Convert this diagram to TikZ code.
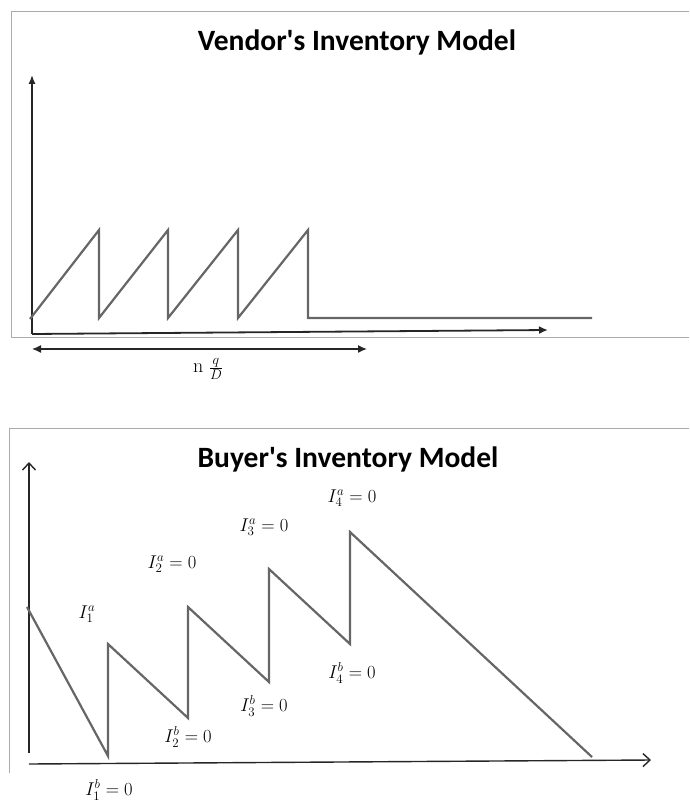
\RequirePackage{fix-cm}
\documentclass[tikz,border=0pt]{standalone}
\usepackage{fontspec}
\newfontfamily\titlefont{Carlito}
\usetikzlibrary{arrows.meta}
\tikzset{
  frame/.style={draw=black!33, line width=1},
  axis/.style={draw=black!85, line width=1.4},
  stock/.style={draw=black!60, line width=2.2, line join=miter},
  title/.style={font=\titlefont\bfseries\fontsize{29.5}{34}\selectfont},
  lab/.style={font=\fontsize{18.5}{22}\selectfont},
}
\begin{document}
\begin{tikzpicture}[x=1pt, y=-1pt, line cap=butt]
  \useasboundingbox (0,0) rectangle (689,802);
  % vendor panel
  \draw[frame] (689,12) -- (11,12) -- (11,337) -- (689,337);
  \node[title] (vtitle) at (357,42) {Vendor's Inventory Model};
  \coordinate (vo) at (32,334);
  \draw[axis,-{Latex[length=9pt,width=7pt]}] (vo) -- (32,75);
  \draw[axis,line width=1.8,-{Latex[length=9pt,width=8pt]}] (vo) -- (548,330);
  \draw[stock] (30,319) -- (99,230) -- (99,318) -- (168,230) -- (168,318)
    -- (238,230) -- (238,318) -- (308,230) -- (308,318) -- (592,318);
  \coordinate (ca) at (32,349);
  \coordinate (cb) at (367,349);
  \draw[axis,{Latex[length=9pt,width=8pt]}-{Latex[length=9pt,width=8pt]}] (ca) -- (cb);
  \node[lab,font=\fontsize{20}{24}\selectfont] (span) at (208,369) {$\mathrm{n}\;\frac{q}{D}$};
  % buyer panel
  \draw[frame] (689,428) -- (9,428) -- (9,773);
  \node[title] (btitle) at (348,459) {Buyer's Inventory Model};
  \draw[axis,-{Straight Barb[length=7pt,width=13pt]}] (29,753) -- (29,462);
  \draw[axis,-{Straight Barb[length=7pt,width=13pt]}] (29,764) -- (651,760);
  \draw[stock] (27,607) -- (108,756) -- (108,644) -- (188,718) -- (188,607)
    -- (269,682) -- (269,569) -- (350,644) -- (350,532) -- (592,757);
  \node[lab] (a1) at (87,614) {$I_1^a$};
  \node[lab] (a2) at (172,564) {$I_2^a=0$};
  \node[lab] (a3) at (264,527) {$I_3^a=0$};
  \node[lab] (a4) at (352,498) {$I_4^a=0$};
  \node[lab] (b1) at (109,790) {$I_1^b=0$};
  \node[lab] (b2) at (188,737) {$I_2^b=0$};
  \node[lab] (b3) at (264,706) {$I_3^b=0$};
  \node[lab] (b4) at (352,673) {$I_4^b=0$};
\end{tikzpicture}
\end{document}
